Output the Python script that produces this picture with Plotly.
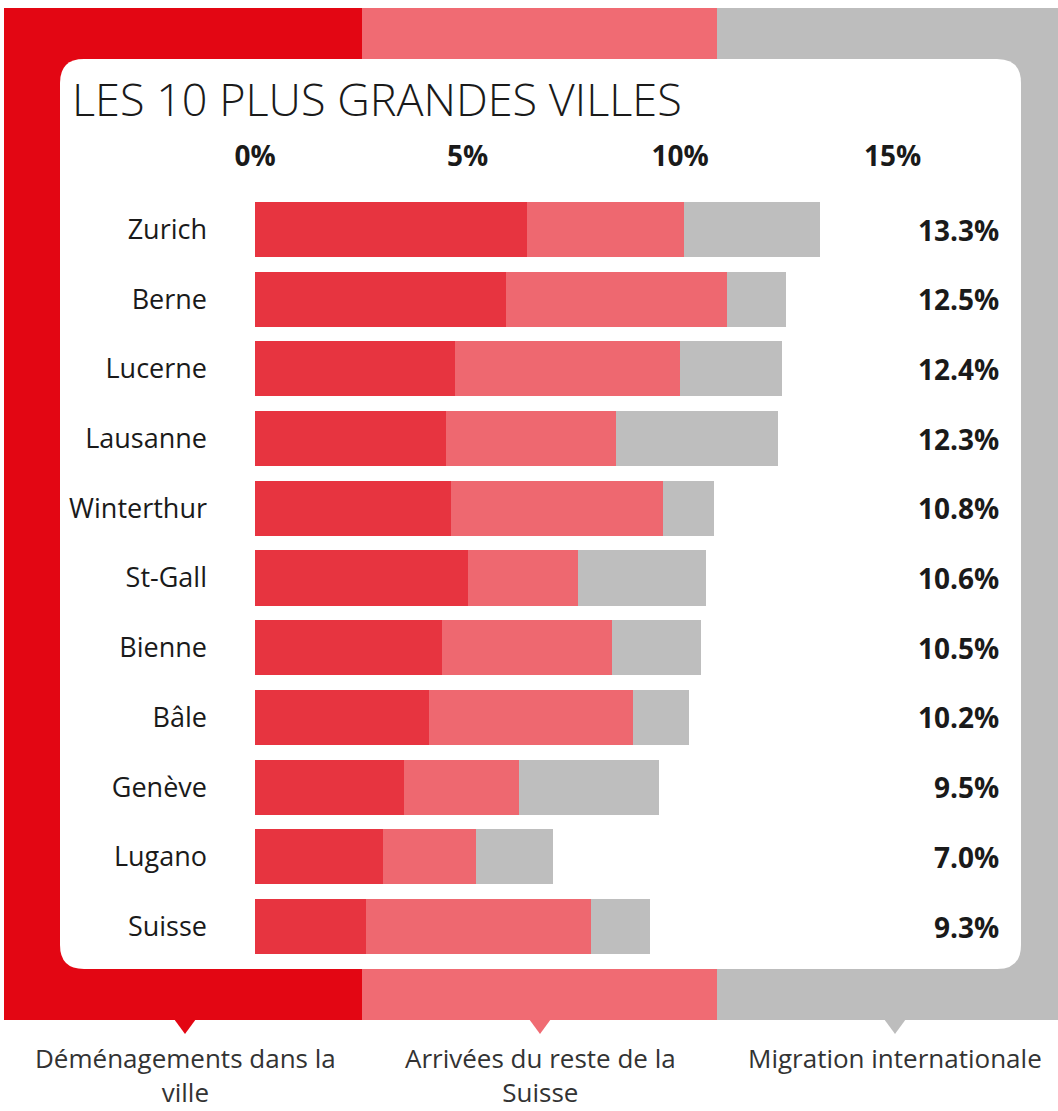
import plotly.graph_objects as go

cities = ["Zurich", "Berne", "Lucerne", "Lausanne", "Winterthur", "St-Gall",
          "Bienne", "Bâle", "Genève", "Lugano", "Suisse"]
moves_within = [6.4, 5.9, 4.7, 4.5, 4.6, 5.0, 4.4, 4.1, 3.5, 3.0, 2.6]
from_rest_ch = [3.7, 5.2, 5.3, 4.0, 5.0, 2.6, 4.0, 4.8, 2.7, 2.2, 5.3]
international = [3.2, 1.4, 2.4, 3.8, 1.2, 3.0, 2.1, 1.3, 3.3, 1.8, 1.4]
totals = [13.3, 12.5, 12.4, 12.3, 10.8, 10.6, 10.5, 10.2, 9.5, 7.0, 9.3]
tick_vals = [0, 5, 10, 15]
tick_text = ["0%", "5%", "10%", "15%"]
series_names = ["Déménagements dans la<br>ville", "Arrivées du reste de la<br>Suisse",
                "Migration internationale"]
title_text = "LES 10 PLUS GRANDES VILLES"

W, H = 1058, 1111
bar_colors = ["#E73440", "#EE6870", "#BEBEBE"]
band_colors = ["#E30613", "#F06B73", "#BDBDBD"]
FONT = "Open Sans"

# pixel mapping
px0 = 255.0
ppu = 42.5
row0 = 229.5
pitch = 69.7

fig = go.Figure()
for vals, col, name in zip([moves_within, from_rest_ch, international], bar_colors, series_names):
    fig.add_trace(go.Bar(
        y=cities, x=vals, orientation="h", name=name.replace("<br>", " "),
        marker=dict(color=col, line=dict(width=0)), width=0.79,
        hoverinfo="x+y", showlegend=False,
    ))

shapes = []
bx = [4, 362, 717, W]
for i in range(3):
    shapes.append(dict(type="rect", xref="paper", yref="paper", layer="below",
                       x0=bx[i] / W, x1=bx[i + 1] / W, y0=1 - 1020 / H, y1=1 - 8 / H,
                       fillcolor=band_colors[i], line=dict(width=0)))

def P(x, y):
    return f"{x / W:.5f},{1 - y / H:.5f}"

L, T, R, B, r = 60, 59, 1021, 969, 24
path = (f"M {P(L + r, T)} L {P(R - r, T)} Q {P(R, T)} {P(R, T + r)} "
        f"L {P(R, B - r)} Q {P(R, B)} {P(R - r, B)} L {P(L + r, B)} "
        f"Q {P(L, B)} {P(L, B - r)} L {P(L, T + r)} Q {P(L, T)} {P(L + r, T)} Z")
shapes.append(dict(type="path", xref="paper", yref="paper", layer="below", path=path,
                   fillcolor="white", line=dict(width=0)))
tri_x = [185, 540, 895]
for cx, col in zip(tri_x, band_colors):
    tp = f"M {P(cx - 11, 1019)} L {P(cx + 11, 1019)} L {P(cx, 1034)} Z"
    shapes.append(dict(type="path", xref="paper", yref="paper", layer="below", path=tp,
                       fillcolor=col, line=dict(width=0)))

annotations = []
annotations.append(dict(text=title_text, xref="paper", yref="paper", x=70 / W, y=1 - 98 / H,
                        xanchor="left", yanchor="middle", showarrow=False,
                        font=dict(family=FONT, size=45, color="#1a1a1a", weight=300)))
for c, t in zip(cities, totals):
    annotations.append(dict(text=f"<b>{t:.1f}%</b>", xref="paper", yref="y", x=1001 / W, y=c,
                            xanchor="right", yanchor="middle", showarrow=False,
                            font=dict(family=FONT, size=28, color="#1a1a1a")))
for cx, name in zip(tri_x, series_names):
    annotations.append(dict(text=name, xref="paper", yref="paper", x=cx / W, y=1 - 1038 / H,
                            xanchor="center", yanchor="top", showarrow=False,
                            font=dict(family=FONT, size=26, color="#333333"),
                            align="center"))

y_top = -row0 / pitch
y_bot = y_top + H / pitch

fig.update_layout(
    width=W, height=H, margin=dict(l=0, r=0, t=0, b=0),
    paper_bgcolor="white", plot_bgcolor="rgba(0,0,0,0)",
    barmode="stack", bargap=0,
    shapes=shapes, annotations=annotations,
    xaxis=dict(range=[-px0 / ppu, (W - px0) / ppu], domain=[0, 1],
               tickvals=tick_vals, ticktext=[f"<b>{t}</b>" for t in tick_text],
               side="top", anchor="free", position=1 - 172 / H,
               showgrid=False, zeroline=False, showline=False, ticks="",
               tickfont=dict(family=FONT, size=28, color="#1a1a1a")),
    yaxis=dict(type="category", categoryorder="array", categoryarray=cities,
               range=[y_bot, y_top], domain=[0, 1],
               anchor="free", position=207 / W, side="left",
               showgrid=False, zeroline=False, showline=False, ticks="",
               tickfont=dict(family=FONT, size=27, color="#1a1a1a")),
)

fig.write_html("out.html", config={"displayModeBar": False},
               post_script="document.body.style.margin='0';document.body.style.padding='0';")
